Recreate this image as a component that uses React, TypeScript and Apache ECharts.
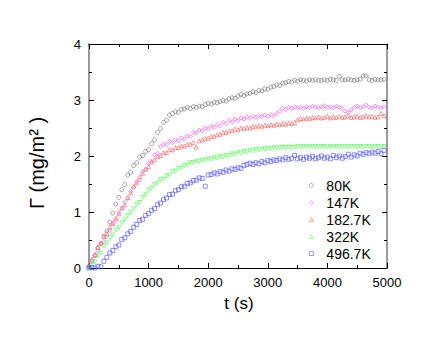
import React, { useEffect, useRef } from "react";
import * as echarts from "echarts";

const times = [0, 50, 100, 150, 200, 250, 300, 350, 400, 450, 500, 550, 600, 650, 700, 750, 800, 850, 900, 950,
  1000, 1050, 1100, 1150, 1200, 1250, 1300, 1350, 1400, 1450, 1500, 1550, 1600, 1650, 1700, 1750, 1800, 1850, 1900, 1950,
  2000, 2050, 2100, 2150, 2200, 2250, 2300, 2350, 2400, 2450, 2500, 2550, 2600, 2650, 2700, 2750, 2800, 2850, 2900, 2950,
  3000, 3050, 3100, 3150, 3200, 3250, 3300, 3350, 3400, 3450, 3500, 3550, 3600, 3650, 3700, 3750, 3800, 3850, 3900, 3950,
  4000, 4050, 4100, 4150, 4200, 4250, 4300, 4350, 4400, 4450, 4500, 4550, 4600, 4650, 4700, 4750, 4800, 4850, 4900, 4950];

const k80 = [0.02, 0.12, 0.22, 0.36, 0.44, 0.57, 0.66, 0.82, 0.98, 1.14, 1.26, 1.40, 1.49, 1.66, 1.71, 1.83, 1.88, 1.98, 2.01, 2.08,
  2.11, 2.22, 2.29, 2.42, 2.49, 2.60, 2.64, 2.73, 2.76, 2.79, 2.78, 2.83, 2.84, 2.87, 2.85, 2.88, 2.87, 2.89, 2.88, 2.92,
  2.94, 2.93, 2.96, 2.95, 2.97, 2.99, 2.98, 3.02, 3.04, 3.03, 3.07, 3.10, 3.08, 3.11, 3.12, 3.15, 3.13, 3.17, 3.16, 3.20,
  3.19, 3.23, 3.24, 3.27, 3.26, 3.30, 3.31, 3.33, 3.32, 3.35, 3.34, 3.36, 3.35, 3.34, 3.36, 3.35, 3.36, 3.35, 3.35, 3.36,
  3.35, 3.37, 3.36, 3.35, 3.42, 3.36, 3.36, 3.37, 3.36, 3.35, 3.36, 3.37, 3.43, 3.43, 3.36, 3.35, 3.37, 3.36, 3.36, 3.37];

const k147 = [0.04, 0.13, 0.24, 0.31, 0.43, 0.47, 0.56, 0.67, 0.80, 0.85, 0.99, 1.07, 1.17, 1.24, 1.37, 1.44, 1.54, 1.57, 1.72, 1.76,
  1.87, 1.91, 2.02, 2.05, 2.17, 2.21, 2.20, 2.26, 2.24, 2.29, 2.27, 2.32, 2.30, 2.36, 2.35, 2.42, 2.41, 2.46, 2.45, 2.50,
  2.48, 2.53, 2.51, 2.56, 2.54, 2.60, 2.58, 2.64, 2.61, 2.66, 2.63, 2.68, 2.66, 2.70, 2.67, 2.71, 2.69, 2.72, 2.70, 2.73,
  2.71, 2.74, 2.72, 2.76, 2.80, 2.85, 2.83, 2.87, 2.85, 2.88, 2.86, 2.87, 2.85, 2.88, 2.86, 2.89, 2.87, 2.86, 2.88, 2.90,
  2.87, 2.88, 2.86, 2.89, 2.87, 2.85, 2.80, 2.78, 2.82, 2.87, 2.89, 2.86, 2.88, 2.91, 2.87, 2.86, 2.89, 2.87, 2.86, 2.88];

const k182 = [0.05, 0.16, 0.24, 0.37, 0.44, 0.56, 0.62, 0.73, 0.79, 0.89, 0.97, 1.07, 1.13, 1.26, 1.34, 1.46, 1.52, 1.63, 1.69, 1.77,
  1.81, 1.89, 1.93, 1.99, 2.01, 2.06, 2.06, 2.11, 2.11, 2.15, 2.15, 2.18, 2.18, 2.21, 2.21, 2.24, 2.16, 2.27, 2.29, 2.31,
  2.32, 2.35, 2.35, 2.38, 2.39, 2.42, 2.42, 2.45, 2.45, 2.48, 2.47, 2.50, 2.49, 2.51, 2.50, 2.53, 2.52, 2.54, 2.53, 2.55,
  2.54, 2.56, 2.55, 2.57, 2.56, 2.58, 2.57, 2.59, 2.58, 2.60, 2.65, 2.67, 2.66, 2.68, 2.67, 2.69, 2.68, 2.70, 2.68, 2.69,
  2.71, 2.68, 2.70, 2.69, 2.71, 2.69, 2.70, 2.72, 2.69, 2.70, 2.71, 2.69, 2.70, 2.72, 2.70, 2.71, 2.69, 2.70, 2.76, 2.72];

const k322 = [0.00, 0.06, 0.11, 0.22, 0.27, 0.39, 0.45, 0.54, 0.59, 0.68, 0.72, 0.81, 0.86, 0.94, 0.99, 1.06, 1.14, 1.17, 1.26, 1.31,
  1.39, 1.42, 1.49, 1.52, 1.58, 1.59, 1.64, 1.66, 1.72, 1.73, 1.78, 1.79, 1.83, 1.84, 1.88, 1.88, 1.91, 1.90, 1.93, 1.92,
  1.95, 1.94, 1.97, 1.96, 1.99, 1.98, 2.01, 2.01, 2.04, 2.03, 2.06, 2.05, 2.08, 2.07, 2.10, 2.09, 2.12, 2.11, 2.13, 2.12,
  2.14, 2.13, 2.15, 2.14, 2.15, 2.16, 2.15, 2.16, 2.15, 2.16, 2.17, 2.16, 2.17, 2.16, 2.17, 2.16, 2.17, 2.16, 2.17, 2.17,
  2.16, 2.17, 2.16, 2.17, 2.17, 2.16, 2.17, 2.16, 2.17, 2.17, 2.16, 2.17, 2.16, 2.17, 2.17, 2.16, 2.17, 2.17, 2.16, 2.17];

const k496 = [0.00, 0.01, 0.00, 0.03, 0.02, 0.12, 0.19, 0.27, 0.31, 0.38, 0.41, 0.51, 0.54, 0.61, 0.65, 0.73, 0.78, 0.85, 0.87, 0.94,
  0.97, 1.03, 1.06, 1.13, 1.16, 1.22, 1.25, 1.31, 1.32, 1.38, 1.40, 1.45, 1.46, 1.51, 1.52, 1.56, 1.57, 1.61, 1.60, 1.46,
  1.66, 1.67, 1.70, 1.68, 1.72, 1.71, 1.75, 1.73, 1.77, 1.76, 1.79, 1.78, 1.83, 1.85, 1.87, 1.85, 1.88, 1.86, 1.90, 1.88,
  1.92, 1.90, 1.93, 1.92, 1.95, 1.93, 1.97, 1.94, 1.96, 2.01, 1.95, 1.97, 1.94, 1.98, 1.96, 1.99, 1.95, 1.97, 2.00, 1.96,
  1.98, 1.95, 2.01, 1.97, 2.00, 1.96, 1.99, 2.03, 1.98, 2.02, 2.00, 2.05, 2.03, 2.06, 2.04, 2.07, 2.05, 2.08, 2.04, 2.10];

const seriesNames = ["80K", "147K", "182.7K", "322K", "496.7K"];
const seriesValues = [k80, k147, k182, k322, k496];
const seriesColors = ["#6e6e6e", "#ff40ff", "#ff6060", "#50ff50", "#5050ff"];
const seriesSymbols = ["circle", "diamond", "triangle", "triangle", "rect"];
const seriesRotate = [0, 0, 0, 180, 0];
const xTicks = [0, 1000, 2000, 3000, 4000, 5000];
const yTicks = [0, 1, 2, 3, 4];

const FONT = "Liberation Sans, Arial, sans-serif";

export default function App() {
  const ref = useRef<HTMLDivElement>(null);
  useEffect(() => {
    if (!ref.current) return;
    const chart = echarts.init(ref.current, undefined, { renderer: "svg" });
    const baseAxis = (color: string, width: number) => ({
      axisLine: { show: true, onZero: false, lineStyle: { color, width } },
      axisTick: { show: true, inside: true, length: 5, lineStyle: { color: "#000", width: 1 } },
      minorTick: { show: true, splitNumber: 2, length: 3, lineStyle: { color: "#000", width: 1 } },
      splitLine: { show: false },
    });
    const option = {
      animation: false,
      backgroundColor: "#fff",
      grid: { left: 89, right: 43, top: 44, bottom: 75, containLabel: false },
      xAxis: [
        {
          type: "value", min: xTicks[0], max: xTicks[xTicks.length - 1], interval: 1000, position: "bottom",
          ...baseAxis("#000", 1),
          axisLabel: { color: "#000", fontSize: 13, fontFamily: FONT, margin: 8, formatter: (v: number) => String(v) },
        },
        {
          type: "value", min: xTicks[0], max: xTicks[xTicks.length - 1], interval: 1000, position: "top",
          ...baseAxis("#000", 1),
          axisLabel: { show: false },
        },
      ],
      yAxis: [
        {
          type: "value", min: yTicks[0], max: yTicks[yTicks.length - 1], interval: 1, position: "left",
          ...baseAxis("#808080", 1.6),
          axisLabel: { color: "#000", fontSize: 13, fontFamily: FONT, margin: 8 },
        },
        {
          type: "value", min: yTicks[0], max: yTicks[yTicks.length - 1], interval: 1, position: "right",
          ...baseAxis("#808080", 1.6),
          axisLabel: { show: false },
        },
      ],
      legend: {
        orient: "vertical",
        left: 304,
        top: 173,
        itemWidth: 4,
        itemHeight: 4,
        itemGap: 2,
        textStyle: { color: "#000", fontSize: 14, fontFamily: FONT, lineHeight: 15, padding: [0, 0, 0, 8] },
        data: seriesNames.map((name, i) => ({
          name,
          itemStyle: { color: "rgba(255,255,255,0)", borderColor: seriesColors[i], borderWidth: 0.7 },
        })),
      },
      graphic: [
        {
          type: "text", x: 239, y: 303,
          style: { text: "t (s)", fontSize: 17, fontFamily: FONT, fill: "#000", align: "center", verticalAlign: "middle" },
        },
        {
          type: "text", x: 37, y: 163, rotation: Math.PI / 2,
          style: { text: "Γ (mg/m² )", fontSize: 20, fontFamily: FONT, fill: "#000", align: "center", verticalAlign: "middle" },
        },
      ],
      series: seriesNames.map((name, i) => ({
        name,
        type: "scatter",
        symbol: seriesSymbols[i],
        symbolRotate: seriesRotate[i],
        symbolSize: 4,
        itemStyle: { color: "rgba(255,255,255,0)", borderColor: seriesColors[i], borderWidth: 0.8 },
        data: times.map((t, j) => [t, seriesValues[i][j]]),
      })),
    };
    chart.setOption(option as any);
    return () => chart.dispose();
  }, []);
  return <div ref={ref} style={{ width: 430, height: 343, position: "absolute", left: 0, top: 0 }} />;
}
